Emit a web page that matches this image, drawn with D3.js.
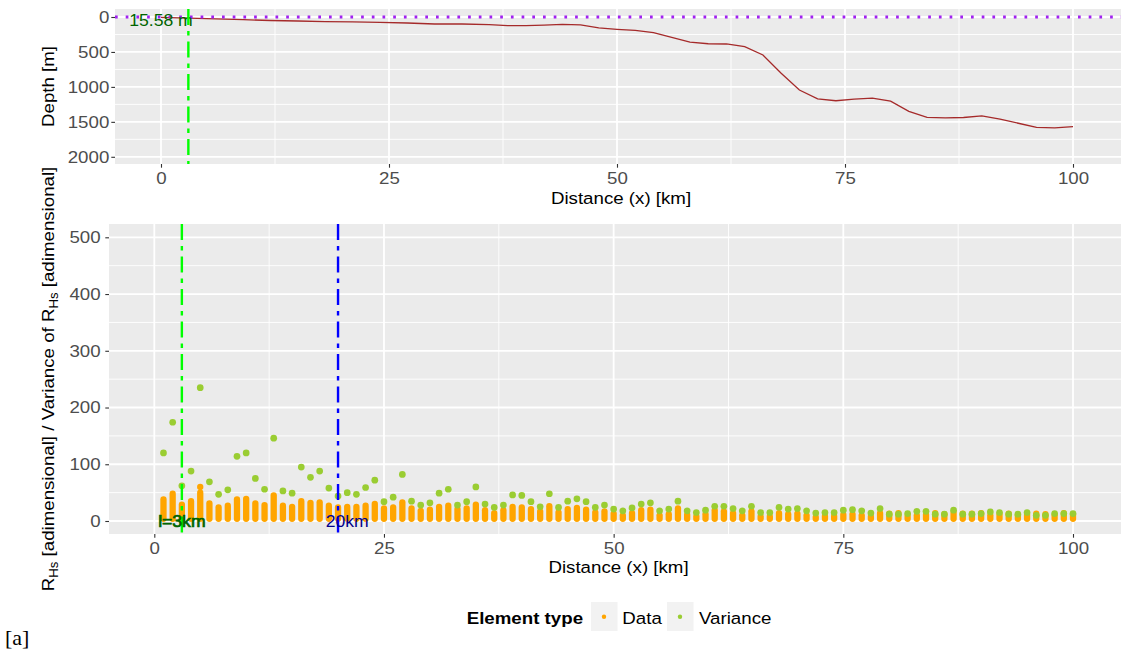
<!DOCTYPE html>
<html>
<head>
<meta charset="utf-8">
<script src="https://cdn.jsdelivr.net/npm/d3@7/dist/d3.min.js"></script>
<style>
  body { margin: 0; background: #fff; }
  svg { display: block; font-family: "Liberation Sans", Arial, sans-serif; }
</style>
</head>
<body>
<svg id="chart" width="1121" height="650"></svg>
<script>
// ---- bathymetric profile along the transect ----
const depthKm = [0, 3, 6, 9, 12, 15, 18, 21, 24, 27, 30, 33, 36, 38, 40, 42, 44, 46, 48, 50,
  52, 54, 56, 58, 60, 62, 64, 66, 68, 70, 72, 74, 76, 78, 80, 82, 84, 86, 88, 90,
  92, 94, 96, 98, 100];
const depthM = [5, 15.58, 27, 38, 50, 57, 65, 70, 76, 86, 100, 100, 108, 124, 124, 116, 105, 114, 155, 176,
  192, 225, 290, 360, 383, 386, 424, 543, 805, 1045, 1171, 1198, 1175, 1160, 1205, 1350, 1435, 1442, 1438, 1415,
  1460, 1520, 1578, 1586, 1567];
const seaLevel = 0;
const breakKm = 3;
const breakDepthLabel = "15.58 m";
const distanceTicks = [0, 25, 50, 75, 100];
const distanceMinor = [12.5, 37.5, 62.5, 87.5];
const depthTicks = [0, 500, 1000, 1500, 2000];
const depthMinor = [250, 750, 1250, 1750];

// ---- RHs samples and their variance, one group per km ----
const sampleKm = [1, 2, 3, 4, 5, 6, 7, 8, 9, 10, 11, 12, 13, 14, 15, 16, 17, 18, 19, 20,
  21, 22, 23, 24, 25, 26, 27, 28, 29, 30, 31, 32, 33, 34, 35, 36, 37, 38, 39, 40,
  41, 42, 43, 44, 45, 46, 47, 48, 49, 50, 51, 52, 53, 54, 55, 56, 57, 58, 59, 60,
  61, 62, 63, 64, 65, 66, 67, 68, 69, 70, 71, 72, 73, 74, 75, 76, 77, 78, 79, 80,
  81, 82, 83, 84, 85, 86, 87, 88, 89, 90, 91, 92, 93, 94, 95, 96, 97, 98, 99, 100];
const dataLow = 4;
const dataHigh = [38, 48, 29, 35, 50, 31, 24, 27, 38, 39, 31, 28, 45, 27, 25, 35, 32, 33, 27, 24,
  25, 25, 27, 30, 22, 24, 33, 22, 18, 20, 25, 27, 21, 22, 29, 19, 14, 19, 25, 24,
  21, 17, 26, 15, 21, 23, 20, 15, 17, 13, 10, 14, 19, 20, 10, 12, 22, 11, 8, 12,
  19, 17, 14, 10, 17, 8, 8, 14, 12, 13, 10, 7, 9, 9, 11, 12, 10, 8, 14, 13,
  14, 9, 10, 11, 14, 12, 15, 13, 13, 14, 10, 11, 13, 10, 11, 13, 12, 10, 14, 12];
const dataOutlierKm = [5];
const dataOutlierVal = [60];
const varianceVal = [120, 174, 62, 88, 235, 69, 47, 55, 114, 120, 75, 56, 146, 53, 49, 95, 77, 88, 58, 44,
  50, 47, 59, 72, 34, 42, 82, 35, 28, 32, 49, 56, 28, 34, 60, 30, 24, 28, 46, 45,
  34, 25, 48, 24, 35, 39, 34, 24, 28, 21, 18, 23, 30, 32, 18, 21, 35, 18, 15, 19,
  26, 26, 22, 18, 26, 15, 15, 24, 21, 22, 18, 14, 15, 15, 19, 20, 18, 14, 22, 12,
  12, 13, 17, 17, 12, 12, 19, 12, 12, 13, 16, 15, 12, 12, 15, 10, 10, 13, 13, 13];
const rhsTicks = [0, 100, 200, 300, 400, 500];
const rhsMinor = [50, 150, 250, 350, 450];
const scaleKm = 3, scaleLabel = "l=3km";
const windowKm = 20, windowLabel = "20km";
const legendTitle = "Element type";
const legendItems = ["Data", "Variance"];

// ---- styling ----
const C = {
  panel: "#EBEBEB", grid: "#FFFFFF", tick: "#333333", tickText: "#4D4D4D", title: "#000000",
  depth: "#A52A2A", sea: "#A020F0", green: "#00FF00", blue: "#0000FF",
  darkgreen: "#006400", darkblue: "#00008B", data: "#FFA500", variance: "#9ACD32"
};
const FS = 17, SX = 1.1;
const twodash = "16,6,4.5,6";
const plain = d3.format("d");

const svg = d3.select("#chart");
svg.append("rect").attr("width", 1121).attr("height", 650).attr("fill", "#fff");

function label(g, x, y, str, o = {}) {
  const t = g.append("text")
    .attr("transform", `translate(${x},${y})` + (o.rotate ? ` rotate(${o.rotate})` : "") + ` scale(${SX},1)`)
    .attr("text-anchor", o.anchor || "middle")
    .attr("font-size", o.size || FS)
    .attr("fill", o.fill || C.title)
    .attr("font-weight", o.weight || "normal");
  if (o.family) t.attr("font-family", o.family);
  if (str !== null) t.text(str);
  return t;
}

function panel(id, x0, x1, y0, y1, xs, ys, xMaj, xMin, yMaj, yMin) {
  const g = svg.append("g");
  svg.append("clipPath").attr("id", id).append("rect")
    .attr("x", x0).attr("y", y0).attr("width", x1 - x0).attr("height", y1 - y0);
  g.append("rect").attr("x", x0).attr("y", y0).attr("width", x1 - x0).attr("height", y1 - y0).attr("fill", C.panel);
  const gg = g.append("g").attr("clip-path", `url(#${id})`);
  yMin.forEach(v => gg.append("line").attr("x1", x0).attr("x2", x1).attr("y1", ys(v)).attr("y2", ys(v))
    .attr("stroke", C.grid).attr("stroke-width", 0.9));
  xMin.forEach(v => gg.append("line").attr("y1", y0).attr("y2", y1).attr("x1", xs(v)).attr("x2", xs(v))
    .attr("stroke", C.grid).attr("stroke-width", 0.9));
  yMaj.forEach(v => gg.append("line").attr("x1", x0).attr("x2", x1).attr("y1", ys(v)).attr("y2", ys(v))
    .attr("stroke", C.grid).attr("stroke-width", 1.8));
  xMaj.forEach(v => gg.append("line").attr("y1", y0).attr("y2", y1).attr("x1", xs(v)).attr("x2", xs(v))
    .attr("stroke", C.grid).attr("stroke-width", 1.8));
  return gg;
}

function styleAxis(a) {
  a.select(".domain").remove();
  a.selectAll(".tick line").attr("stroke", C.tick).attr("stroke-width", 1.1);
  a.selectAll(".tick text").attr("fill", C.tickText).attr("font-size", FS)
    .attr("font-family", "Liberation Sans, Arial, sans-serif");
}

// ================= top panel: depth profile =================
const T = { x0: 115, x1: 1127, y0: 9, y1: 164 };
const xTop = d3.scaleLinear().domain([0, 100]).range([161, 1073]);
const yTop = d3.scaleLinear().domain([0, 2000]).range([17, 156.8]);
const gTop = panel("clipTop", T.x0, T.x1, T.y0, T.y1, xTop, yTop, distanceTicks, distanceMinor, depthTicks, depthMinor);

const profile = depthKm.map((k, i) => [k, depthM[i]]);
gTop.append("path").datum(profile)
  .attr("d", d3.line().x(d => xTop(d[0])).y(d => yTop(d[1])))
  .attr("fill", "none").attr("stroke", C.depth).attr("stroke-width", 1.3);

gTop.append("line").attr("x1", T.x0).attr("x2", T.x1).attr("y1", yTop(seaLevel)).attr("y2", yTop(seaLevel))
  .attr("stroke", C.sea).attr("stroke-width", 2.8).attr("stroke-dasharray", "2.7,8");

label(gTop, xTop(0), yTop(seaLevel) + 8.8, breakDepthLabel, { size: 16, fill: C.darkgreen });

gTop.append("line").attr("x1", xTop(breakKm)).attr("x2", xTop(breakKm)).attr("y1", T.y0).attr("y2", T.y1)
  .attr("stroke", C.green).attr("stroke-width", 2.4).attr("stroke-dasharray", twodash);

const axTopX = svg.append("g").attr("transform", `translate(0,${T.y1})`)
  .call(d3.axisBottom(xTop).tickValues(distanceTicks).tickFormat(plain).tickSize(3.7).tickPadding(4.7));
styleAxis(axTopX);
axTopX.selectAll(".tick text").attr("transform", `scale(${SX},1)`);

const axTopY = svg.append("g").attr("transform", `translate(${T.x0},0)`)
  .call(d3.axisLeft(yTop).tickValues(depthTicks).tickFormat(plain).tickSize(3.7).tickPadding(1.5));
styleAxis(axTopY);
axTopY.selectAll(".tick text").attr("x", -5.2).attr("transform", `scale(${SX},1)`);

label(svg, 621, 203.5, "Distance (x) [km]");
label(svg, 53.5, (T.y0 + T.y1) / 2, "Depth [m]", { rotate: -90 });

// ================= bottom panel: RHs data and variance =================
const B = { x0: 109, x1: 1127, y0: 224, y1: 534 };
const xBot = d3.scaleLinear().domain([0, 100]).range([154.3, 1073]);
const yBot = d3.scaleLinear().domain([0, 500]).range([521, 237.3]);
const gBot = panel("clipBot", B.x0, B.x1, B.y0, B.y1, xBot, yBot, distanceTicks, distanceMinor, rhsTicks, rhsMinor);

// each km holds a dense stack of samples: drawn as a run of overlapping points
gBot.append("g").selectAll("line").data(sampleKm).join("line")
  .attr("x1", d => xBot(d)).attr("x2", d => xBot(d))
  .attr("y1", () => yBot(dataLow)).attr("y2", (d, i) => yBot(dataHigh[i]))
  .attr("stroke", C.data).attr("stroke-width", 6.3).attr("stroke-linecap", "round");
gBot.append("g").selectAll("circle").data(dataOutlierKm).join("circle")
  .attr("cx", d => xBot(d)).attr("cy", (d, i) => yBot(dataOutlierVal[i])).attr("r", 3.15)
  .attr("fill", C.data);

gBot.append("g").selectAll("circle").data(sampleKm).join("circle")
  .attr("cx", d => xBot(d)).attr("cy", (d, i) => yBot(varianceVal[i])).attr("r", 3.35)
  .attr("fill", C.variance);

gBot.append("line").attr("x1", xBot(scaleKm)).attr("x2", xBot(scaleKm)).attr("y1", B.y0).attr("y2", B.y1)
  .attr("stroke", C.green).attr("stroke-width", 2.4).attr("stroke-dasharray", twodash);
gBot.append("line").attr("x1", xBot(windowKm)).attr("x2", xBot(windowKm)).attr("y1", B.y0).attr("y2", B.y1)
  .attr("stroke", C.blue).attr("stroke-width", 2.4).attr("stroke-dasharray", twodash);

label(gBot, xBot(scaleKm), yBot(0) + 5.8, scaleLabel, { size: 16, fill: C.darkgreen })
  .attr("stroke", C.darkgreen).attr("stroke-width", 0.7);
label(gBot, xBot(windowKm + 1), yBot(0) + 5.8, windowLabel, { size: 16, fill: C.darkblue });

const axBotX = svg.append("g").attr("transform", `translate(0,${B.y1})`)
  .call(d3.axisBottom(xBot).tickValues(distanceTicks).tickFormat(plain).tickSize(3.7).tickPadding(3.9));
styleAxis(axBotX);
axBotX.selectAll(".tick text").attr("transform", `scale(${SX},1)`);

const axBotY = svg.append("g").attr("transform", `translate(${B.x0},0)`)
  .call(d3.axisLeft(yBot).tickValues(rhsTicks).tickFormat(plain).tickSize(3.7).tickPadding(4.6));
styleAxis(axBotY);
axBotY.selectAll(".tick text").attr("x", -7.6).attr("transform", `scale(${SX},1)`);

label(svg, 618.5, 573, "Distance (x) [km]");
const yt = label(svg, 54, (B.y0 + B.y1) / 2, null, { rotate: -90 });
yt.append("tspan").text("R");
yt.append("tspan").text("Hs").attr("font-size", 12).attr("dy", 4);
yt.append("tspan").text(" [adimensional] / Variance of R").attr("dy", -4);
yt.append("tspan").text("Hs").attr("font-size", 12).attr("dy", 4);
yt.append("tspan").text(" [adimensional]").attr("dy", -4);

// ================= legend =================
const lg = svg.append("g");
label(lg, 466.7, 624, legendTitle, { anchor: "start", weight: "bold" });
const keyX = [591, 667], textX = [622.3, 699];
const keyColor = [C.data, C.variance];
legendItems.forEach((name, i) => {
  lg.append("rect").attr("x", keyX[i]).attr("y", 602).attr("width", 26.5).attr("height", 29).attr("fill", "#F2F2F2");
  lg.append("circle").attr("cx", keyX[i] + 13).attr("cy", 616.7).attr("r", 2.2).attr("fill", keyColor[i]);
  label(lg, textX[i], 624, name, { anchor: "start" });
});

// panel tag
label(svg, 5, 645, "[a]", { anchor: "start", size: 20, family: "Liberation Serif, Times New Roman, serif" });
</script>
</body>
</html>
